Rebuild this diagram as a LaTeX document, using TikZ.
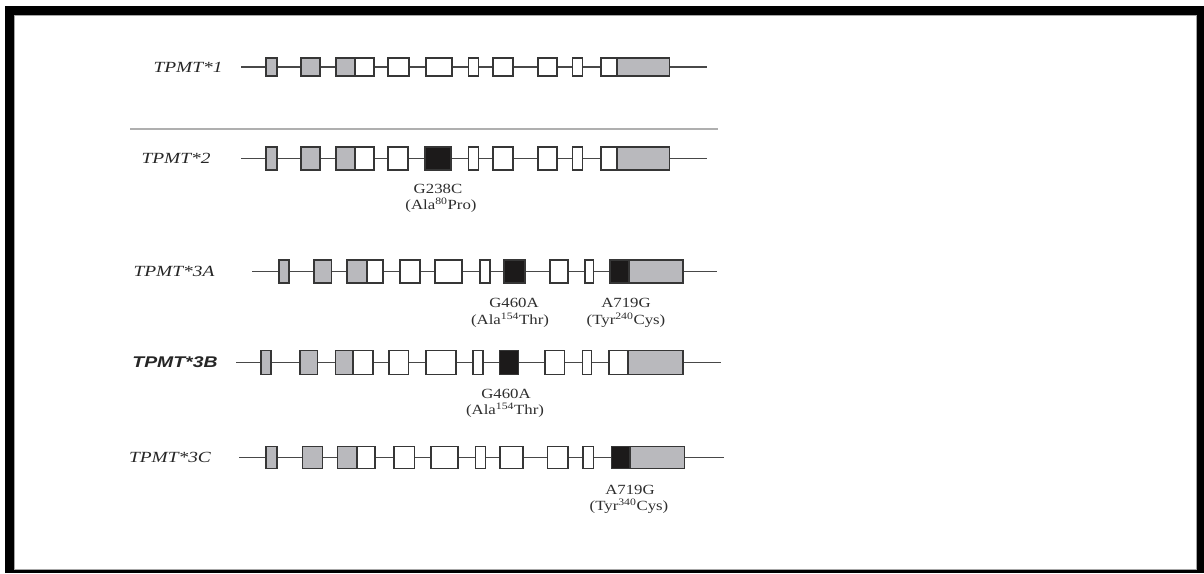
\documentclass[tikz,border=0pt]{standalone}
\usepackage{fontspec}
\setmainfont{Liberation Serif}
\newfontfamily\labsans{Liberation Sans}
\definecolor{linegray}{HTML}{484848}
\definecolor{edgegray}{HTML}{363636}
\definecolor{exongray}{HTML}{B9B9BD}
\definecolor{mutblack}{HTML}{1C1A1A}
\definecolor{rulegray}{HTML}{AFAFAF}
% exon box: name, style, left x, right x, centre y, height
\newcommand\mkexon[6]{%
  \node[#2,minimum width={(#4-#3)*1pt},minimum height={#6*1pt}] (#1) at ({(#3+#4)/2},#5) {};}
\begin{document}
\begin{tikzpicture}[x=1pt,y=-1pt,
  intron/.style={draw=linegray,line width=1.7pt},
  exon/.style={draw=edgegray,line width=1.8pt,inner sep=0pt,outer sep=0pt},
  utr/.style={exon,fill=exongray},
  cds/.style={exon,fill=white},
  mut/.style={exon,fill=mutblack},
  allele/.style={font=\itshape\fontsize{15.5}{15.5}\selectfont,xscale=1.25,text=black!85,inner sep=0pt},
  change/.style={font=\fontsize{14}{14}\selectfont,xscale=1.2,text=black!82,inner sep=0pt},
]
\useasboundingbox (0,0) rectangle (1204,573);
% frame
\fill[black] (5,6) rectangle (1204,573);
\fill[white] (14,15) rectangle (1196,569);
\draw[gray!70,line width=0.6pt] (14,15) rectangle (1196,569);

% ---- TPMT*1 ----
\node[allele] (l1) at (188,67) {TPMT*1};
\coordinate (a1s) at (241,67); \coordinate (a1e) at (707,67);
\draw[intron] (a1s) -- (a1e);
\mkexon{a1x1}{utr}{266}{277}{67}{18}
\mkexon{a1x2}{utr}{301}{320}{67}{18}
\mkexon{a1x3}{utr}{336}{355}{67}{18}
\mkexon{a1x3b}{cds}{355}{374}{67}{18}
\mkexon{a1x4}{cds}{388}{409}{67}{18}
\mkexon{a1x5}{cds}{426}{452}{67}{18}
\mkexon{a1x6}{cds}{468.5}{478.5}{67}{18}
\mkexon{a1x7}{cds}{493}{513}{67}{18}
\mkexon{a1x8}{cds}{538}{557}{67}{18}
\mkexon{a1x9}{cds}{572.5}{582.5}{67}{18}
\mkexon{a1x10}{cds}{601}{617}{67}{18}
\mkexon{a1x10b}{utr}{617}{669.5}{67}{18}

% separator rule
\coordinate (sepL) at (130,129); \coordinate (sepR) at (718,129);
\draw[rulegray,line width=2pt] (sepL) -- (sepR);

% ---- TPMT*2 ----
\node[allele] (l2) at (176,158) {TPMT*2};
\coordinate (a2s) at (241,158.5); \coordinate (a2e) at (707,158.5);
\draw[intron] (a2s) -- (a2e);
\mkexon{a2x1}{utr}{266}{277}{158.5}{23}
\mkexon{a2x2}{utr}{301}{320}{158.5}{23}
\mkexon{a2x3}{utr}{336}{355}{158.5}{23}
\mkexon{a2x3b}{cds}{355}{374}{158.5}{23}
\mkexon{a2x4}{cds}{388}{408}{158.5}{23}
\mkexon{a2x5}{mut}{425}{451}{158.5}{23}
\mkexon{a2x6}{cds}{468.5}{478.5}{158.5}{23}
\mkexon{a2x7}{cds}{493}{513}{158.5}{23}
\mkexon{a2x8}{cds}{538}{557}{158.5}{23}
\mkexon{a2x9}{cds}{572.5}{582.5}{158.5}{23}
\mkexon{a2x10}{cds}{601}{617}{158.5}{23}
\mkexon{a2x10b}{utr}{617}{669.5}{158.5}{23}
\node[change] (m2a) at (438,189) {G238C};
\node[change] (m2b) at (441,205) {(Ala\textsuperscript{80}Pro)};

% ---- TPMT*3A ----
\node[allele] (l3) at (174,271) {TPMT*3A};
\coordinate (a3s) at (252,271.5); \coordinate (a3e) at (717,271.5);
\draw[intron] (a3s) -- (a3e);
\mkexon{a3x1}{utr}{279}{289}{271.5}{23}
\mkexon{a3x2}{utr}{314}{331.5}{271.5}{23}
\mkexon{a3x3}{utr}{347}{367}{271.5}{23}
\mkexon{a3x3b}{cds}{367}{383}{271.5}{23}
\mkexon{a3x4}{cds}{400}{420}{271.5}{23}
\mkexon{a3x5}{cds}{435}{462}{271.5}{23}
\mkexon{a3x6}{cds}{480}{490}{271.5}{23}
\mkexon{a3x7}{mut}{504}{525}{271.5}{23}
\mkexon{a3x8}{cds}{550}{568}{271.5}{23}
\mkexon{a3x9}{cds}{585}{593.5}{271.5}{23}
\mkexon{a3x10}{mut}{610}{629}{271.5}{23}
\mkexon{a3x10b}{utr}{629}{683}{271.5}{23}
\node[change] (m3a) at (514,303) {G460A};
\node[change] (m3b) at (510,320) {(Ala\textsuperscript{154}Thr)};
\node[change] (m3c) at (626,303) {A719G};
\node[change] (m3d) at (626,320) {(Tyr\textsuperscript{240}Cys)};

% ---- TPMT*3B ----
\node[allele,font=\labsans\bfseries\itshape\fontsize{15.5}{15.5}\selectfont] (l4) at (175,362) {TPMT*3B};
\coordinate (a4s) at (236,362.5); \coordinate (a4e) at (721,362.5);
\draw[intron] (a4s) -- (a4e);
\mkexon{a4x1}{utr}{261}{271}{362.5}{24}
\mkexon{a4x2}{utr}{300}{317.5}{362.5}{24}
\mkexon{a4x3}{utr}{335.5}{353}{362.5}{24}
\mkexon{a4x3b}{cds}{353}{373}{362.5}{24}
\mkexon{a4x4}{cds}{389}{408.5}{362.5}{24}
\mkexon{a4x5}{cds}{426}{456}{362.5}{24}
\mkexon{a4x6}{cds}{473}{483}{362.5}{24}
\mkexon{a4x7}{mut}{499.5}{518.5}{362.5}{24}
\mkexon{a4x8}{cds}{545}{564.5}{362.5}{24}
\mkexon{a4x9}{cds}{582.5}{591.5}{362.5}{24}
\mkexon{a4x10}{cds}{609}{628}{362.5}{24}
\mkexon{a4x10b}{utr}{628}{683}{362.5}{24}
\node[change] (m4a) at (506,394) {G460A};
\node[change] (m4b) at (505,410) {(Ala\textsuperscript{154}Thr)};

% ---- TPMT*3C ----
\node[allele] (l5) at (170,457) {TPMT*3C};
\coordinate (a5s) at (239,457.5); \coordinate (a5e) at (724,457.5);
\draw[intron] (a5s) -- (a5e);
\mkexon{a5x1}{utr}{266}{277}{457.5}{22}
\mkexon{a5x2}{utr}{302.5}{322.5}{457.5}{22}
\mkexon{a5x3}{utr}{337.5}{357}{457.5}{22}
\mkexon{a5x3b}{cds}{357}{375}{457.5}{22}
\mkexon{a5x4}{cds}{394}{414.5}{457.5}{22}
\mkexon{a5x5}{cds}{431}{458}{457.5}{22}
\mkexon{a5x6}{cds}{475.5}{485.5}{457.5}{22}
\mkexon{a5x7}{cds}{500}{523}{457.5}{22}
\mkexon{a5x8}{cds}{547.5}{568}{457.5}{22}
\mkexon{a5x9}{cds}{583}{593.5}{457.5}{22}
\mkexon{a5x10}{mut}{611.5}{630}{457.5}{22}
\mkexon{a5x10b}{utr}{630}{684.5}{457.5}{22}
\node[change] (m5a) at (630,490) {A719G};
\node[change] (m5b) at (629,506) {(Tyr\textsuperscript{340}Cys)};
\end{tikzpicture}
\end{document}
